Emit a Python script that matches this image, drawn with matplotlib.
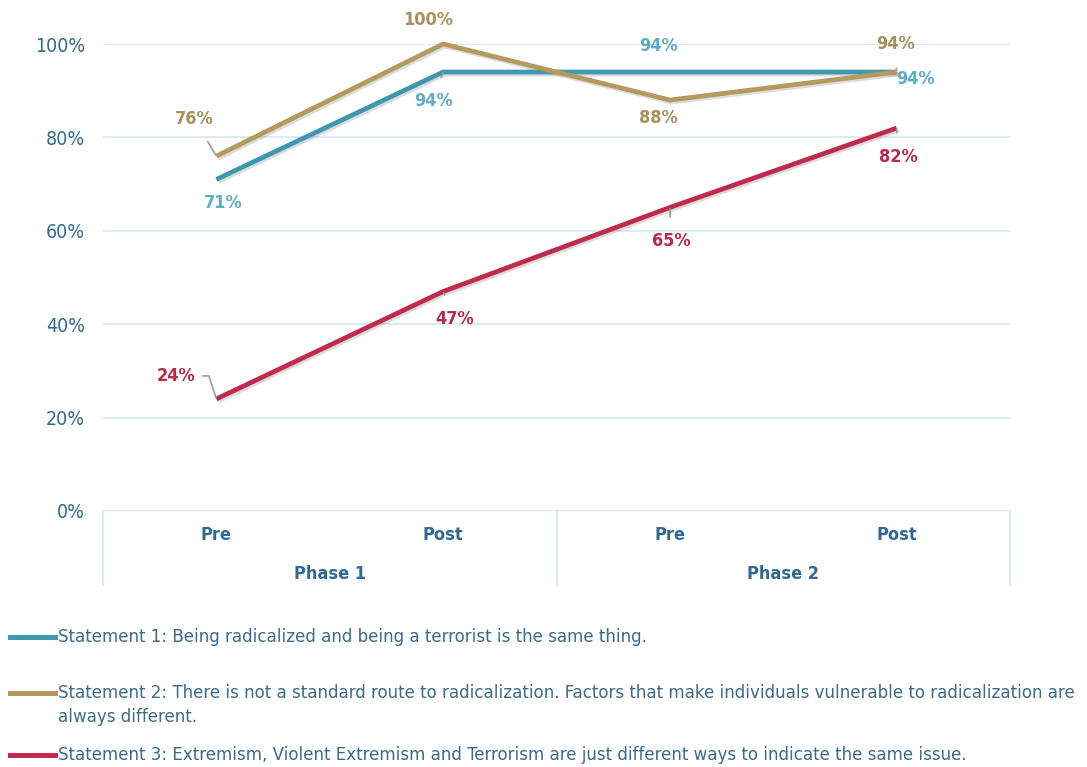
import matplotlib
matplotlib.use("Agg")
import matplotlib.pyplot as plt
import matplotlib.patheffects as pe
from matplotlib.lines import Line2D
from matplotlib.transforms import blended_transform_factory

# survey results, % agreeing
categories = ["Pre", "Post", "Pre", "Post"]
phases = ["Phase 1", "Phase 2"]
statement1 = [71, 94, 94, 94]
statement2 = [76, 100, 88, 94]
statement3 = [24, 47, 65, 82]
legend_labels = [
    "Statement 1: Being radicalized and being a terrorist is the same thing.",
    "Statement 2: There is not a standard route to radicalization. Factors that make individuals vulnerable to radicalization are\nalways different.",
    "Statement 3: Extremism, Violent Extremism and Terrorism are just different ways to indicate the same issue.",
]

blue = "#3f98b0"
blue_txt = "#5eacc6"
gold = "#b49a5c"
gold_txt = "#a8905a"
red = "#c02a4c"
red_txt = "#b8294a"
axis_txt = "#2f6a92"
grid_c = "#d6e9f3"
lead_c = "#9a9a9a"

plt.rcParams["font.stretch"] = "condensed"

fig = plt.figure(figsize=(10.87, 7.67), dpi=100)
ax = fig.add_axes([103 / 1087, 1 - 511 / 767, 907 / 1087, 467 / 767])

x = list(range(len(categories)))
shadow = [pe.SimpleLineShadow(offset=(1.2, -1.5), shadow_color="#777777", alpha=0.25), pe.Normal()]
series = [(statement1, blue, blue_txt), (statement2, gold, gold_txt), (statement3, red, red_txt)]
for vals, c, _ in series:
    ax.plot(x, vals, color=c, lw=3.4, solid_capstyle="butt", clip_on=False,
            path_effects=shadow, zorder=3)

ax.set_xlim(-0.5, 3.5)
ax.set_ylim(0, 100)
ax.set_yticks([0, 20, 40, 60, 80, 100])
ax.set_yticklabels([f"{v}%" for v in [0, 20, 40, 60, 80, 100]])
ax.yaxis.grid(True, color=grid_c, lw=1.3)
ax.set_axisbelow(True)
for s in ax.spines.values():
    s.set_visible(False)
ax.tick_params(axis="y", length=0, pad=13, labelsize=14, labelcolor=axis_txt)
ax.set_xticks(x)
ax.set_xticklabels(categories, fontweight="bold")
ax.tick_params(axis="x", length=0, pad=11, labelsize=13, labelcolor=axis_txt)

# category box under the axis
tr = blended_transform_factory(ax.transData, ax.transAxes)
for xv in [-0.5, 1.5, 3.5]:
    ax.add_line(Line2D([xv, xv], [0, -0.158], transform=tr, color=grid_c, lw=1.3, clip_on=False))
for i, ph in enumerate(phases):
    ax.text(0.5 + 2 * i, -0.135, ph, transform=tr, ha="center", va="center",
            fontsize=13, fontweight="bold", color=axis_txt)

# value labels: offset in px, leader line style
offsets = [
    [((7, -24), None), ((-10, -29), "c"), ((-11, 26), None), ((19, -7), None)],
    [((-22, 37), "c"), ((-15, 24), None), ((-11, -18), None), ((-1, 28), "c")],
    [((-40, 23), "r"), ((11, -27), "c"), ((1, -34), "c"), ((2, -29), "c")],
]
for (vals, _, tc), offs in zip(series, offsets):
    for xi, v, (off, lead) in zip(x, vals, offs):
        kw = {}
        if lead == "c":
            kw["arrowprops"] = dict(arrowstyle="-", color=lead_c, lw=1.2, shrinkA=9, shrinkB=1)
        elif lead == "r":
            kw["arrowprops"] = dict(arrowstyle="-", color=lead_c, lw=1.2, shrinkA=3, shrinkB=1,
                                    relpos=(1, 0.5), connectionstyle="angle,angleA=0,angleB=108,rad=0")
        ax.annotate(f"{v}%", (xi, v), xytext=off, textcoords="offset pixels",
                    ha="center", va="center", fontsize=13, fontweight="bold",
                    color=tc, annotation_clip=False, zorder=4, **kw)

# legend drawn under the chart
leg_y = [637, 693, 755]
for (vals, c, _), lab, yp in zip(series, legend_labels, leg_y):
    fy = 1 - yp / 767
    fig.add_artist(Line2D([10 / 1087, 55 / 1087], [fy, fy], color=c, lw=3.6,
                          transform=fig.transFigure))
    if "\n" in lab:
        fig.text(58 / 1087, fy + 9 / 767, lab, ha="left", va="top", fontsize=13.3,
                 color="#3a6b8a", linespacing=1.4)
    else:
        fig.text(58 / 1087, fy, lab, ha="left", va="center", fontsize=13.3,
                 color="#3a6b8a")

fig.savefig("out.png", dpi=100, facecolor="white")
